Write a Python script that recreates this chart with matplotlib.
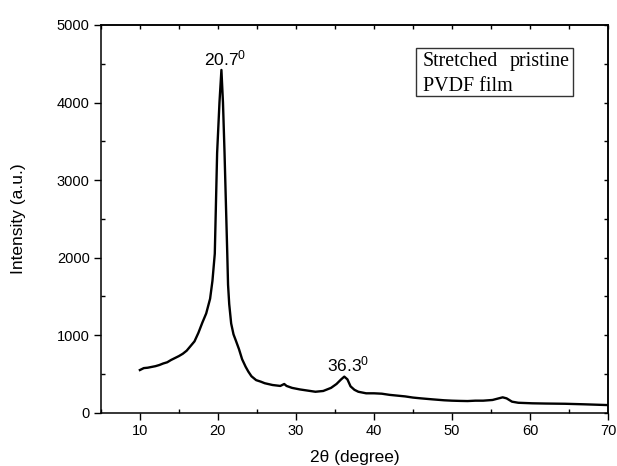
import matplotlib
matplotlib.use("Agg")
import matplotlib.pyplot as plt
from matplotlib.patches import Rectangle

plt.rcParams['font.family'] = ['Liberation Sans', 'DejaVu Sans']
plt.rcParams['mathtext.default'] = 'regular'

two_theta = [10.0, 10.5, 11.0, 11.5, 12.0, 12.5, 13.0, 13.5, 14.0, 14.5, 15.0, 15.5, 16.0,
             16.5, 17.0, 17.5, 18.0, 18.5, 19.0, 19.3, 19.6, 19.9, 20.2, 20.45, 20.65,
             20.85, 21.2, 21.3, 21.45, 21.7, 22.0, 22.3, 22.7, 23.1, 23.55, 23.9, 24.3,
             24.9, 25.5, 26.0, 27.0, 28.0, 28.5, 28.8, 29.5, 30.5, 31.5, 32.5, 33.5,
             34.5, 35.2, 35.8, 36.2, 36.6, 37.0, 37.5, 38.0, 39.0, 40.0, 41.0, 42.0,
             43.0, 44.0, 45.0, 46.0, 47.5, 49.0, 50.0, 51.0, 52.0, 53.0, 54.0, 55.2,
             56.0, 56.5, 57.0, 57.7, 58.5, 60.3, 62.0, 64.5, 67.0, 69.7, 70.0]
intensity = [550, 575, 580, 590, 600, 615, 635, 650, 680, 705, 730, 760, 800,
             860, 920, 1030, 1160, 1280, 1470, 1700, 2050, 3350, 4000, 4420, 4000,
             3350, 2050, 1650, 1400, 1150, 1010, 930, 820, 690, 593, 530, 470,
             420, 400, 380, 357, 345, 370, 345, 320, 300, 285, 270, 280,
             320, 370, 430, 465, 430, 340, 295, 270, 250, 250, 245, 230,
             220, 210, 195, 185, 172, 160, 155, 152, 150, 155, 155, 164,
             185, 198, 185, 142, 128, 121, 118, 115, 108, 99, 98]

peak_labels = ["20.7", "36.3"]
peak_label_pos = [(20.87, 4473), (36.66, 538)]

xticks = [10, 20, 30, 40, 50, 60, 70]
yticks = [0, 1000, 2000, 3000, 4000, 5000]

fig = plt.figure(figsize=(6.17, 4.66), dpi=100)
ax = fig.add_axes([0.1635, 0.1144, 0.8219, 0.832])
ax.plot(two_theta, intensity, color='black', lw=1.7)
ax.set_xlim(5, 70)
ax.set_ylim(0, 5000)
ax.set_xticks(xticks)
ax.set_yticks(yticks)
ax.set_xticks([5, 15, 25, 35, 45, 55, 65], minor=True)
ax.set_yticks([500, 1500, 2500, 3500, 4500], minor=True)
ax.tick_params(which='major', direction='out', length=5, width=1, labelsize=10.5, pad=3)
ax.tick_params(which='minor', direction='in', length=3, width=1)
for s in ax.spines.values():
    s.set_linewidth(1.1)

topax = ax.secondary_xaxis('top')
topax.set_xticks(xticks + [5, 15, 25, 35, 45, 55, 65])
topax.tick_params(direction='in', length=3, width=1, labeltop=False)
rightax = ax.secondary_yaxis('right')
rightax.set_yticks(yticks + [500, 1500, 2500, 3500, 4500])
rightax.tick_params(direction='in', length=3, width=1, labelright=False)
topax.spines['top'].set_linewidth(1.1)
rightax.spines['right'].set_linewidth(1.1)

ax.set_xlabel("2θ (degree)", fontsize=12.5)
ax.set_ylabel("Intensity (a.u.)", fontsize=12.5)
ax.xaxis.set_label_coords(0.5, -0.095)
ax.yaxis.set_label_coords(-0.147, 0.5)

for lab, (px, py) in zip(peak_labels, peak_label_pos):
    ax.text(px, py, lab + "$^{0}$", ha='center', va='baseline', fontsize=12.5)

ax.add_patch(Rectangle((0.621, 0.817), 0.31, 0.124, transform=ax.transAxes,
                       fill=False, edgecolor='#333333', lw=1.0))
serif = ['Liberation Serif', 'DejaVu Serif']
ax.text(0.635, 0.893, "Stretched", transform=ax.transAxes, family=serif,
        fontsize=14.4, ha='left', va='baseline')
ax.text(0.925, 0.893, "pristine", transform=ax.transAxes, family=serif,
        fontsize=14.4, ha='right', va='baseline')
ax.text(0.635, 0.8305, "PVDF film", transform=ax.transAxes, family=serif,
        fontsize=14.4, ha='left', va='baseline')

fig.savefig("out.png", dpi=100)
